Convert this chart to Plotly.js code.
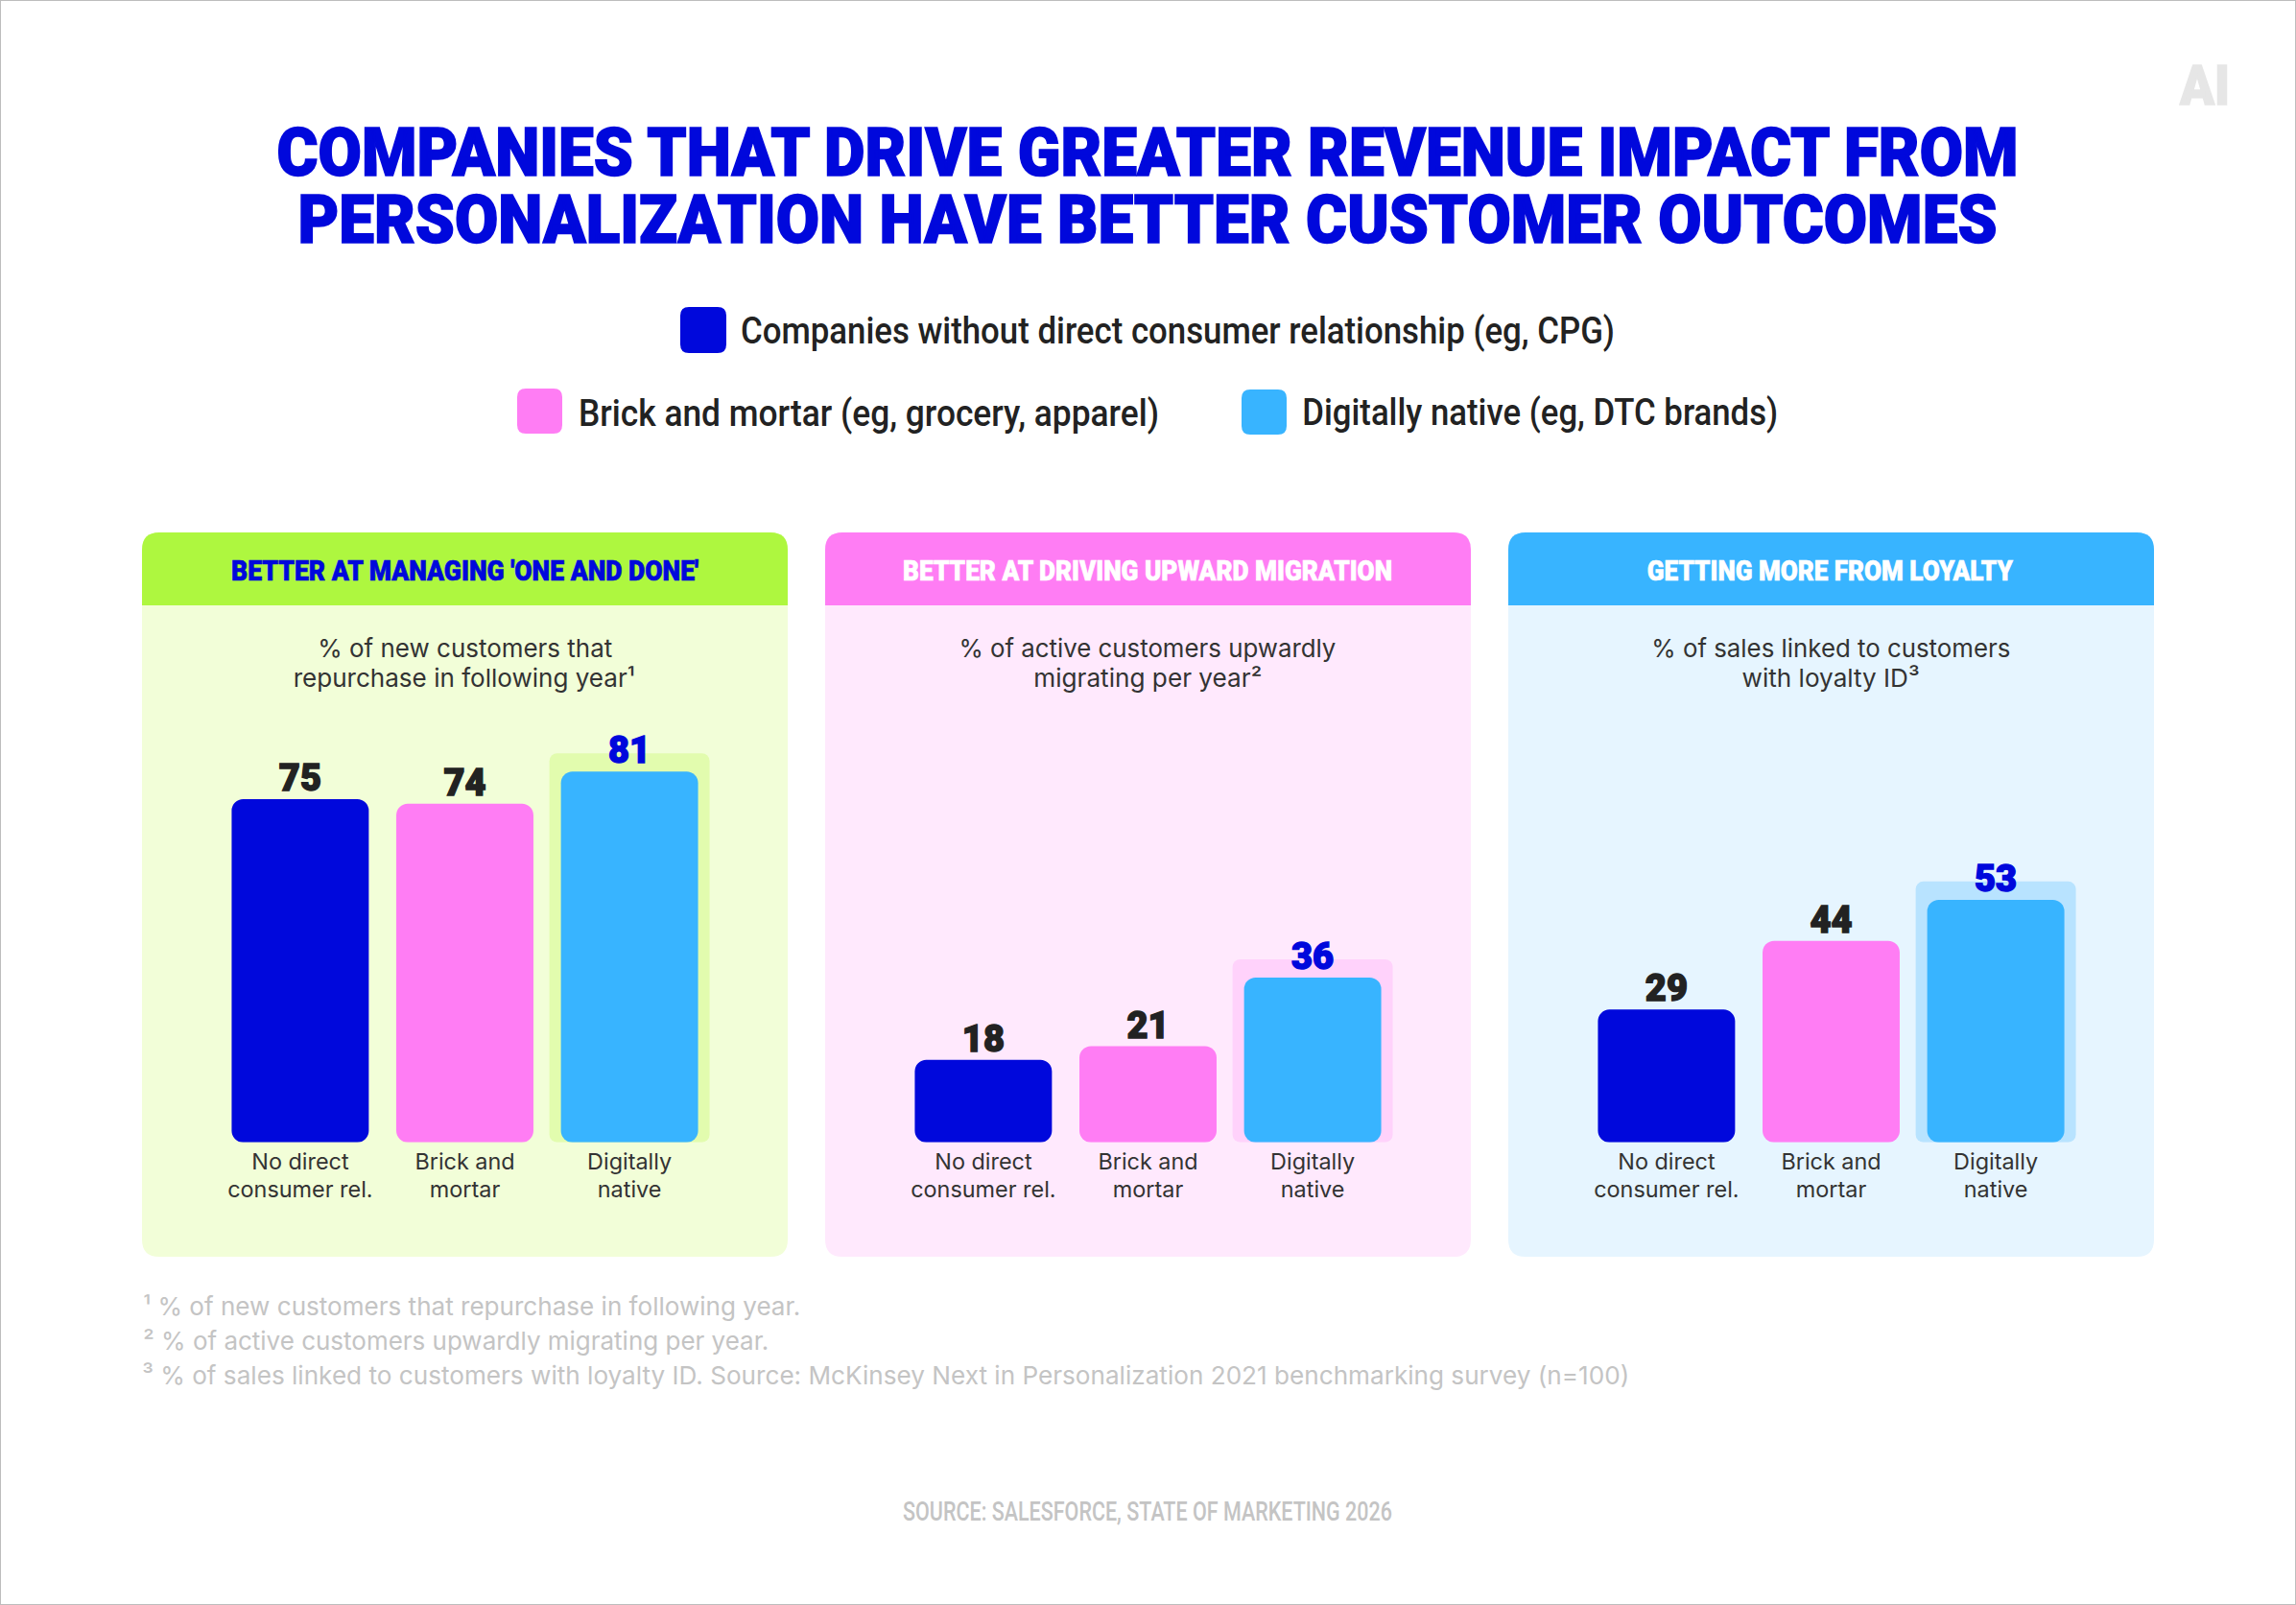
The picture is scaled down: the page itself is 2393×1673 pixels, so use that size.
<!DOCTYPE html>
<html>
<head>
<meta charset="utf-8">
<script src="https://cdn.plot.ly/plotly-3.0.1.min.js"></script>
<style>html,body{margin:0;padding:0;background:#fff}#chart{width:2393px;height:1673px;overflow:hidden}</style>
</head>
<body>
<div id="chart"></div>
<script>
const W = 2393, H = 1673;

const categories = ["No direct<br>consumer rel.", "Brick and<br>mortar", "Digitally<br>native"];
const repurchase = [75, 74, 81];
const migration = [18, 21, 36];
const loyaltySales = [29, 44, 53];
const highlightTops = [85, 40, 57];

const barColors = ["#0008DC", "#FF7DF4", "#38B4FF"];
const cardHeaders = ["#AEF73F", "#FF7DF4", "#38B4FF"];
const cardFills = ["#F2FED8", "#FFE9FD", "#E6F5FF"];
const highlightFills = ["#E2FCAE", "#FFD2FB", "#B8E3FF"];

const titleLines = ["COMPANIES THAT DRIVE GREATER REVENUE IMPACT FROM", "PERSONALIZATION HAVE BETTER CUSTOMER OUTCOMES"];
const titleLineWidths = [1815, 1771];
const legendLabels = ["Companies without direct consumer relationship (eg, CPG)", "Brick and mortar (eg, grocery, apparel)", "Digitally native (eg, DTC brands)"];
const panelHeaders = ["BETTER AT MANAGING 'ONE AND DONE'", "BETTER AT DRIVING UPWARD MIGRATION", "GETTING MORE FROM LOYALTY"];
const panelSubtitles = [
  ["% of new customers that", "repurchase in following year¹"],
  ["% of active customers upwardly", "migrating per year²"],
  ["% of sales linked to customers", "with loyalty ID³"]
];
const footnotes = [
  "¹ % of new customers that repurchase in following year.",
  "² % of active customers upwardly migrating per year.",
  "³ % of sales linked to customers with loyalty ID. Source: McKinsey Next in Personalization 2021 benchmarking survey (n=100)"
];
const sourceLine = "SOURCE: SALESFORCE, STATE OF MARKETING 2026";

const px = x => x / W, py = y => 1 - y / H;
function rr(x0, y0, x1, y1, rt, rb) {
  const p = (x, y) => px(x) + "," + py(y);
  return "M" + p(x0 + rt, y0) + " L" + p(x1 - rt, y0) + " Q" + p(x1, y0) + " " + p(x1, y0 + rt) +
    " L" + p(x1, y1 - rb) + " Q" + p(x1, y1) + " " + p(x1 - rb, y1) +
    " L" + p(x0 + rb, y1) + " Q" + p(x0, y1) + " " + p(x0, y1 - rb) +
    " L" + p(x0, y0 + rt) + " Q" + p(x0, y0) + " " + p(x0 + rt, y0) + " Z";
}
const shapeOf = (path, fill) => ({type: "path", xref: "paper", yref: "paper", path, fillcolor: fill, line: {width: 0}, layer: "below"});

const panelLefts = [148, 860, 1572], cardWidth = 673, cardTop = 555, cardBottom = 1310, headerBottom = 631;
const shapes = [];
panelLefts.forEach((l, i) => {
  shapes.push(shapeOf(rr(l, cardTop, l + cardWidth, cardBottom, 18, 18), cardFills[i]));
  shapes.push(shapeOf(rr(l, cardTop, l + cardWidth, headerBottom, 18, 0), cardHeaders[i]));
});
shapes.push(shapeOf(rr(709, 320, 757, 368, 9, 9), barColors[0]));
shapes.push(shapeOf(rr(539, 405, 586, 452, 9, 9), barColors[1]));
shapes.push(shapeOf(rr(1294, 406, 1341, 453, 9, 9), barColors[2]));
shapes.push({type: "rect", xref: "paper", yref: "paper", x0: 0, x1: 1, y0: 0, y1: 1, fillcolor: "rgba(0,0,0,0)", line: {color: "#BDBDBD", width: 2}, layer: "above"});

const ROBOTO = "Roboto, Arial, sans-serif", INTER = "Inter, Arial, sans-serif";
const textItems = [
  {t: legendLabels[0], cx: 1227.5, cy: 345, size: 38, w: 911, color: "#222222", fam: ROBOTO, wt: 500},
  {t: legendLabels[1], cx: 905.5, cy: 431, size: 38, w: 605, color: "#222222", fam: ROBOTO, wt: 500},
  {t: legendLabels[2], cx: 1605, cy: 430, size: 38, w: 496, color: "#222222", fam: ROBOTO, wt: 500},
  {t: panelHeaders[0], cx: 484.5, cy: 594.5, size: 30, w: 487, color: barColors[0], fam: ROBOTO, wt: 900, stroke: 0.7},
  {t: panelHeaders[1], cx: 1195.5, cy: 594.5, size: 30, w: 510, color: "#FFFFFF", fam: ROBOTO, wt: 900, stroke: 0.7},
  {t: panelHeaders[2], cx: 1907.5, cy: 594.5, size: 30, w: 381, color: "#FFFFFF", fam: ROBOTO, wt: 900, stroke: 0.7},
  {t: panelSubtitles[0][0], cx: 484.5, cy: 675.5, size: 26, w: 307, color: "#333333", fam: INTER, wt: 400},
  {t: panelSubtitles[0][1], cx: 483.5, cy: 707, size: 26, w: 356, color: "#333333", fam: INTER, wt: 400},
  {t: panelSubtitles[1][0], cx: 1196, cy: 675.5, size: 26, w: 393, color: "#333333", fam: INTER, wt: 400},
  {t: panelSubtitles[1][1], cx: 1196, cy: 707, size: 26, w: 238, color: "#333333", fam: INTER, wt: 400},
  {t: panelSubtitles[2][0], cx: 1908, cy: 675.5, size: 26, w: 374, color: "#333333", fam: INTER, wt: 400},
  {t: panelSubtitles[2][1], cx: 1908, cy: 707, size: 26, w: 185, color: "#333333", fam: INTER, wt: 400},
  {t: footnotes[0], cx: 491.5, cy: 1361.5, size: 26, w: 685, color: "#C4C4C4", fam: INTER, wt: 400},
  {t: footnotes[1], cx: 475, cy: 1397.5, size: 26, w: 652, color: "#C4C4C4", fam: INTER, wt: 400},
  {t: footnotes[2], cx: 923, cy: 1433.5, size: 26, w: 1550, color: "#C4C4C4", fam: INTER, wt: 400},
  {t: sourceLine, cx: 1196, cy: 1575.5, size: 28, w: 510, color: "#C4C4C4", fam: ROBOTO, wt: 500},
  {t: "AI", cx: 2297, cy: 90, size: 57, w: 52, color: "#E6E6E6", fam: ROBOTO, wt: 900, stroke: 1.5}
];
const annotations = textItems.map(o => ({
  text: o.t, xref: "paper", yref: "paper", x: px(o.cx), y: py(o.cy), xanchor: "center", yanchor: "middle",
  showarrow: false, font: {family: o.fam, size: o.size, color: o.color, weight: o.wt}
}));

const panels = [repurchase, migration, loyaltySales];
const centers = [484.5, 1196.5, 1908.5], halfSpan = 257.4;
const baselineY = 1190.7, pxPerUnit = 4.77, yTop = 100;
const traces = [];
const layout = {
  width: W, height: H, margin: {l: 0, r: 0, t: 0, b: 0, pad: 0},
  paper_bgcolor: "#FFFFFF", plot_bgcolor: "rgba(0,0,0,0)", showlegend: false,
  title: {
    text: titleLines.join("<br>"), xref: "paper", x: px(1196), xanchor: "center",
    yref: "paper", y: py(182.5), yanchor: "middle",
    font: {family: ROBOTO, size: 70, color: barColors[0], weight: 900}
  },
  barmode: "overlay", shapes, annotations, hovermode: false
};
panels.forEach((vals, i) => {
  const s = i === 0 ? "" : String(i + 1);
  traces.push({
    type: "bar", x: [categories[2]], y: [highlightTops[i]], xaxis: "x" + s, yaxis: "y" + s,
    width: 0.973, marker: {color: highlightFills[i], line: {width: 0}}, name: "highlight " + (i + 1), hoverinfo: "skip"
  });
  traces.push({
    type: "bar", x: categories, y: vals, xaxis: "x" + s, yaxis: "y" + s,
    width: 0.833, marker: {color: barColors, line: {width: 0}, cornerradius: 12},
    text: vals.map(String), textposition: "outside", cliponaxis: false, textangle: 0,
    textfont: {family: ROBOTO, size: 38, weight: 900, color: ["#222222", "#222222", barColors[0]]},
    name: panelHeaders[i]
  });
  layout["xaxis" + s] = {
    domain: [px(centers[i] - halfSpan), px(centers[i] + halfSpan)], anchor: "y" + s,
    type: "category", categoryorder: "array", categoryarray: categories, range: [-0.5, 2.5], autorange: false,
    showgrid: false, zeroline: false, showline: false, ticks: "", ticklabelstandoff: 4, tickangle: 0,
    tickfont: {family: INTER, size: 23.4, color: "#333333"}, fixedrange: true
  };
  layout["yaxis" + s] = {
    domain: [py(baselineY), py(baselineY - yTop * pxPerUnit)], anchor: "x" + s, range: [0, yTop], autorange: false,
    showgrid: false, zeroline: false, showline: false, showticklabels: false, ticks: "", fixedrange: true
  };
});

Plotly.newPlot("chart", traces, layout, {displayModeBar: false, staticPlot: true}).then(gd => {
  gd.querySelectorAll(".bars .point path").forEach(p => {
    const b = p.getBBox();
    if (!b.width) return;
    const r = b.width > 150 ? 8 : 12;
    const x0 = b.x, x1 = b.x + b.width, y0 = b.y, y1 = b.y + b.height;
    p.setAttribute("d", `M${x0 + r},${y0}H${x1 - r}A${r},${r} 0 0 1 ${x1},${y0 + r}V${y1 - r}A${r},${r} 0 0 1 ${x1 - r},${y1}H${x0 + r}A${r},${r} 0 0 1 ${x0},${y1 - r}V${y0 + r}A${r},${r} 0 0 1 ${x0 + r},${y0}Z`);
  });
  gd.querySelectorAll(".bars .bartext").forEach(t => {
    t.setAttribute("y", parseFloat(t.getAttribute("y") || 0) + 3);
    t.style.stroke = t.style.fill; t.style.strokeWidth = "1.4px";
  });
  gd.querySelectorAll(".xaxislayer-above text tspan.line").forEach(l => {
    if (parseFloat(l.getAttribute("dy")) > 0) l.setAttribute("dy", "1.24em");
  });
  textItems.forEach((o, i) => {
    const t = gd.querySelector(`.annotation[data-index="${i}"] .annotation-text`);
    if (t) {
      t.setAttribute("textLength", o.w); t.setAttribute("lengthAdjust", "spacingAndGlyphs");
      if (o.stroke) { t.style.stroke = o.color; t.style.strokeWidth = o.stroke + "px"; }
    }
  });
  const title = gd.querySelector(".gtitle");
  if (title) {
    title.style.stroke = barColors[0]; title.style.strokeWidth = "1.6px";
    title.querySelectorAll("tspan.line").forEach((l, i) => {
      if (i > 0) l.setAttribute("dy", "1em");
      l.setAttribute("textLength", titleLineWidths[i]); l.setAttribute("lengthAdjust", "spacingAndGlyphs");
    });
  }
});
</script>
</body>
</html>
